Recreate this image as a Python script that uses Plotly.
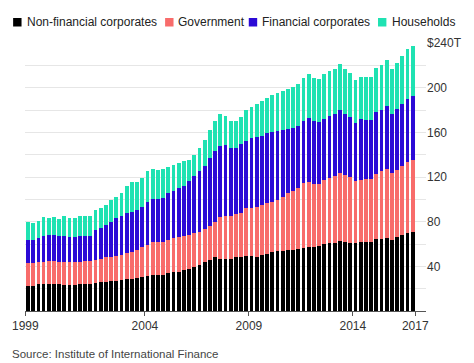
import plotly.graph_objects as go

# ---- data (quarterly, trillions USD) ----
n_quarters = 75
quarters = [f"{1998 + (q + 1) // 4}Q{(q + 1) % 4 + 1}" for q in range(n_quarters)]

series_names = ["Non-financial corporates", "Government", "Financial corporates", "Households"]
series_colors = ["#000000", "#f86c6b", "#2b0ad6", "#1fe2b2"]

nonfin_corporates = [
    22.4, 22.8, 23.8, 24.2, 24.3, 24.3, 24.2, 23.5, 23.3, 23.5,
    23.8, 24.0, 24.3, 25.4, 25.8, 26.3, 26.8, 27.2, 27.8, 28.4,
    29.0, 29.9, 30.6, 31.4, 32.3, 32.3, 32.6, 33.8, 34.5, 35.2,
    36.3, 37.7, 39.5, 41.3, 43.5, 45.7, 48.0, 47.0, 46.4, 46.6,
    48.0, 48.7, 49.3, 49.0, 48.7, 50.2, 51.0, 52.5, 54.0, 54.0,
    54.3, 55.0, 55.5, 56.8, 57.7, 57.7, 58.3, 60.0, 61.3, 61.3,
    63.0, 62.2, 60.7, 60.7, 61.6, 61.6, 62.2, 64.3, 64.5, 65.2,
    63.7, 66.0, 68.2, 70.2, 71.1,
]
government = [
    20.3, 19.9, 19.7, 19.8, 20.2, 20.2, 20.1, 20.5, 20.5, 20.0,
    20.5, 20.5, 20.2, 20.3, 20.7, 21.7, 21.7, 22.3, 22.7, 23.3,
    24.0, 24.8, 27.1, 28.1, 29.7, 29.7, 29.4, 29.9, 30.5, 30.8,
    30.7, 30.3, 30.0, 29.7, 30.0, 30.3, 32.0, 37.6, 38.6, 38.4,
    38.5, 39.3, 42.7, 43.5, 44.3, 44.8, 45.5, 45.5, 45.5, 48.5,
    51.2, 52.5, 54.5, 57.7, 57.7, 56.3, 55.7, 56.9, 57.7, 59.7,
    61.0, 59.8, 59.3, 55.6, 55.9, 56.4, 55.8, 58.6, 60.5, 61.8,
    59.8, 60.5, 61.8, 62.8, 64.3,
]
financial_corporates = [
    21.0, 20.8, 21.5, 23.0, 23.5, 23.5, 22.7, 23.5, 22.7, 22.5,
    22.7, 23.0, 22.5, 26.9, 28.0, 29.0, 31.5, 33.5, 34.5, 35.9,
    36.0, 35.8, 35.8, 38.5, 38.5, 38.5, 39.0, 41.8, 42.5, 44.0,
    45.0, 48.0, 51.0, 54.0, 56.5, 61.0, 63.0, 63.4, 64.0, 61.0,
    59.5, 62.0, 60.0, 62.5, 63.0, 62.0, 62.5, 62.0, 61.5, 59.5,
    57.5, 56.5, 55.3, 55.3, 57.4, 55.8, 54.9, 55.0, 55.3, 55.7,
    56.3, 54.7, 53.7, 52.0, 54.4, 52.7, 52.7, 54.9, 54.6, 56.2,
    53.2, 54.4, 55.7, 56.8, 57.4,
]
households = [
    15.8, 15.4, 16.0, 17.0, 15.7, 16.0, 15.8, 17.7, 17.2, 17.0,
    18.5, 18.0, 18.5, 18.0, 17.9, 18.0, 19.0, 19.5, 21.0, 24.4,
    26.4, 24.9, 25.2, 27.8, 26.5, 26.2, 26.0, 23.9, 23.5, 22.5,
    22.0, 19.4, 19.5, 21.0, 23.0, 25.0, 27.0, 28.0, 26.0, 24.0,
    24.0, 24.0, 28.0, 28.0, 29.0, 31.0, 32.0, 33.0, 34.0, 35.0,
    36.0, 37.0, 38.3, 38.9, 39.8, 38.9, 38.9, 40.7, 40.3, 40.0,
    41.2, 40.0, 39.3, 38.7, 38.1, 38.9, 38.9, 39.8, 40.4, 41.3,
    40.0, 41.1, 43.0, 44.9, 44.9,
]

x_tick_labels = ["1999", "2004", "2009", "2014", "2017"]
y_tick_values = list(range(0, 241, 20))
y_tick_labels = ["", "", "40", "", "80", "", "120", "", "160", "", "200", "", "$240T"]

# ---- figure ----
all_series = [nonfin_corporates, government, financial_corporates, households]
x_index = list(range(n_quarters))

fig = go.Figure()
for name, color, vals in zip(series_names, series_colors, all_series):
    fig.add_trace(go.Bar(
        x=x_index, y=vals, name=name, marker=dict(color=color, line=dict(width=0)),
        customdata=quarters, hovertemplate="%{customdata}: %{y:.1f}T<extra>" + name + "</extra>",
    ))

# plot-area geometry in pixels
L, R, T, B = 24, 429, 43, 311
W, H = R - L, B - T
def px(x):
    return (x - L) / W
def py(y):
    return (B - y) / H

font_family = "Liberation Sans, Arial, sans-serif"

# custom legend (squares + labels)
legend_sq_x = [12, 165.5, 250, 380.5]
legend_tx_x = [25.5, 177.5, 262.5, 393.5]
shapes = []
annotations = []
for name, color, sx, tx in zip(series_names, series_colors, legend_sq_x, legend_tx_x):
    shapes.append(dict(type="rect", xref="paper", yref="paper",
                       x0=px(sx), x1=px(sx + 8.5), y0=py(26.5), y1=py(18),
                       fillcolor=color, line=dict(width=0)))
    annotations.append(dict(text=name, xref="paper", yref="paper", x=px(tx), y=py(22),
                            xanchor="left", yanchor="middle", showarrow=False, borderpad=0,
                            font=dict(family=font_family, size=12, color="#222222")))

annotations.append(dict(text="Source: Institute of International Finance", xref="paper", yref="paper",
                        x=px(10), y=py(354), xanchor="left", yanchor="middle", showarrow=False,
                        borderpad=0, font=dict(family=font_family, size=11.5, color="#444444")))

fig.update_layout(
    barmode="stack",
    bargap=0.28,
    width=474, height=363,
    margin=dict(l=L, r=474 - R, t=T, b=363 - B, pad=0),
    paper_bgcolor="white", plot_bgcolor="white",
    showlegend=False,
    font=dict(family=font_family, size=12, color="#333333"),
    shapes=shapes,
    annotations=annotations,
    xaxis=dict(
        range=[(L - 27) / 5.25, (R - 27) / 5.25],
        tickmode="array",
        tickvals=[-0.5, 22.5, 42.5, 62.5, 74.5],
        ticktext=x_tick_labels,
        ticks="outside", ticklen=4, tickwidth=1, tickcolor="#555555",
        showline=True, linecolor="#555555", linewidth=1,
        showgrid=False, zeroline=False,
        tickfont=dict(size=12, color="#333333"),
    ),
    yaxis=dict(
        range=[0, 240],
        side="right",
        tickmode="array",
        tickvals=y_tick_values,
        ticktext=y_tick_labels,
        ticks="", showline=False,
        showgrid=True, gridcolor="#e6e6e6", gridwidth=1,
        zeroline=False,
        tickfont=dict(size=12, color="#333333"),
    ),
)

fig.write_html("out.html", config={"displayModeBar": False},
               post_script="document.body.style.margin='0';document.body.style.padding='0';")
